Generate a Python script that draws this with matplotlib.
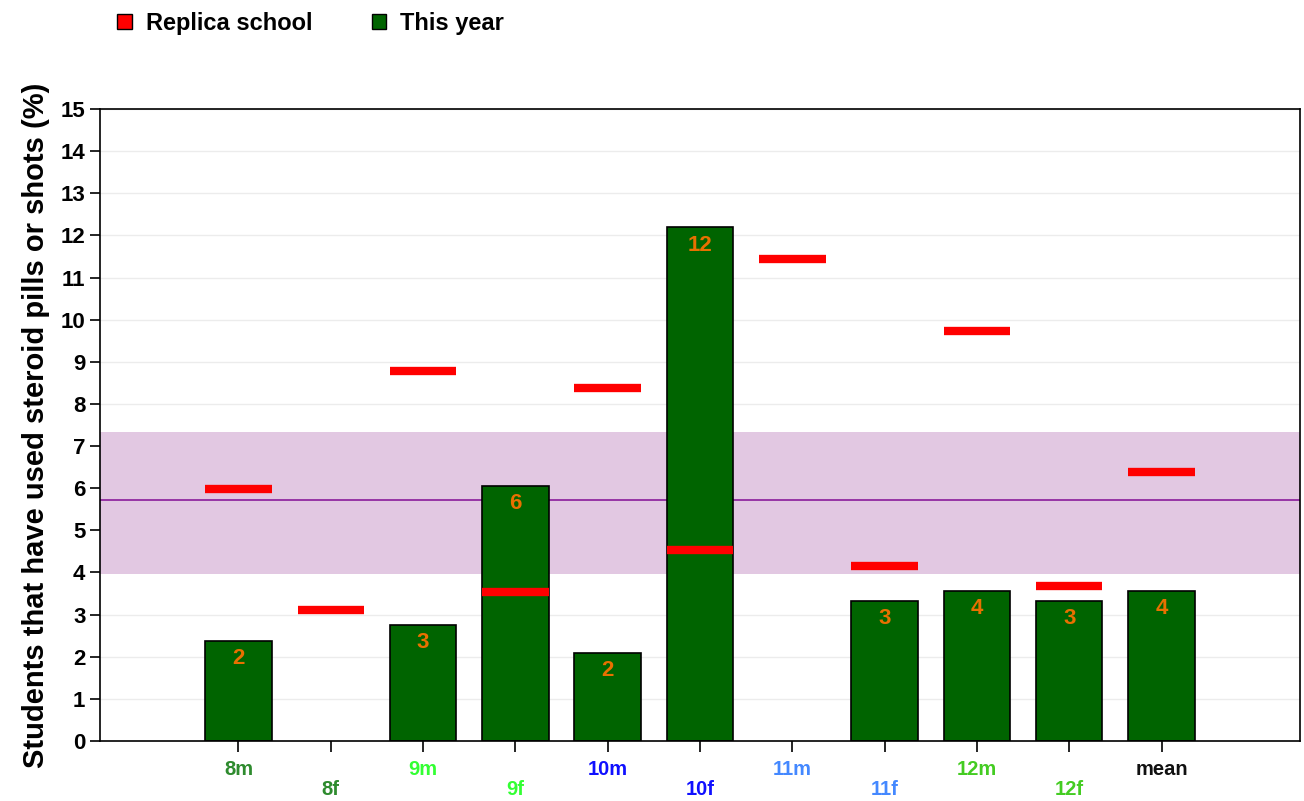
import numpy as np
import matplotlib
matplotlib.use('Agg')
import matplotlib.pyplot as plt
from matplotlib.patches import Patch

plt.rcParams['font.family'] = ['Liberation Sans', 'DejaVu Sans']
plt.rcParams['font.weight'] = 'bold'

# data
categories = ['8m', '8f', '9m', '9f', '10m', '10f', '11m', '11f', '12m', '12f', 'mean']
this_year = [2.38, np.nan, 2.76, 6.05, 2.09, 12.19, np.nan, 3.33, 3.57, 3.33, 3.57]
bar_labels = ['2', '', '3', '6', '2', '12', '', '3', '4', '3', '4']
replica = [5.97, 3.11, 8.77, 3.54, 8.39, 4.54, 11.43, 4.16, 9.72, 3.68, 6.39]
tick_colors = ['#2e8b2e', '#2e8b2e', '#33ff33', '#33ff33', '#1010ff', '#1010ff',
               '#4488ff', '#4488ff', '#44cc22', '#44cc22', '#111111']
band_low, band_high, band_mid = 3.97, 7.34, 5.71

W, H = 1304, 801
fig = plt.figure(figsize=(W / 100, H / 100), dpi=100)
ax = fig.add_axes([100 / W, (H - 741) / H, 1200 / W, 632 / H])

x = np.arange(len(categories))
bw = 0.72
vals = np.array(this_year)
has = ~np.isnan(vals)

ax.axhspan(band_low, band_high, color='#e2c8e2', zorder=1, lw=0)
ax.axhline(band_mid, color='#8a1c9a', lw=1.2, zorder=1.5)

ax.bar(x[has], vals[has], width=bw, color='#006400', edgecolor='black',
       lw=1.2, zorder=2)
for xi, v, lab in zip(x, this_year, bar_labels):
    if lab:
        ax.text(xi, v - 0.17, lab, ha='center', va='top', color='#e87000',
                fontsize=16, fontweight='bold', zorder=4)

ax.hlines(replica, x - bw / 2, x + bw / 2, color='#ff0000', lw=6, zorder=3)

ax.set_xlim(-1.5, 11.5)
ax.set_ylim(0, 15)
ax.set_yticks(range(16))
ax.yaxis.grid(True, color='#ececec', lw=1, zorder=0)
ax.set_axisbelow(True)
ax.tick_params(axis='y', labelsize=16, length=7, width=1.2)
ax.set_xticks(x)
ax.set_xticklabels(categories)
ax.tick_params(axis='x', length=8, width=1.2, labelsize=14.5, pad=6)
for i, (lbl, c) in enumerate(zip(ax.get_xticklabels(), tick_colors)):
    lbl.set_color(c)
    lbl.set_fontweight('bold')
    if i % 2 == 1:
        lbl.set_y(-0.031)
for s in ax.spines.values():
    s.set_linewidth(1.2)

ax.set_ylabel('Students that have used steroid pills or shots (%)', fontsize=21,
              fontweight='bold', labelpad=8)

handles = [Patch(facecolor='#ff0000', edgecolor='black', label='Replica school'),
           Patch(facecolor='#006400', edgecolor='black', label='This year')]
fig.legend(handles=handles, loc='upper left', bbox_to_anchor=(96 / W, 1.012), ncol=2,
           frameon=False, fontsize=17, handlelength=0.62, handleheight=0.62,
           columnspacing=2.5, handletextpad=0.6)

fig.savefig('out.png', dpi=100)
